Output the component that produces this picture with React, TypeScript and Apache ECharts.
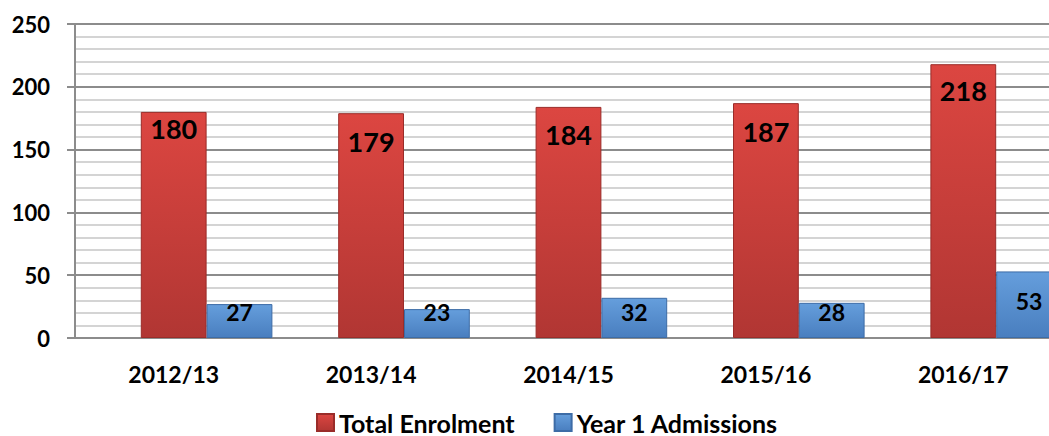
import React, { useEffect, useRef } from "react";
import * as echarts from "echarts";

const categories = ["2012/13", "2013/14", "2014/15", "2015/16", "2016/17"];
const totalEnrolment = [180, 179, 184, 187, 218];
const year1Admissions = [27, 23, 32, 28, 53];
const seriesNames = ["Total Enrolment", "Year 1 Admissions"];

// label placement styling (distances in px)
const redLabelDistance = [3, 15, 14, 15, 13];
const blueLabelDistance = [15, 15, 15, 15, 26];

const FONT = "Lato, 'Open Sans', sans-serif";

const redFill = new echarts.graphic.LinearGradient(0, 0, 0, 1, [
  { offset: 0, color: "#DC4641" },
  { offset: 1, color: "#B13633" },
]);
const blueFill = new echarts.graphic.LinearGradient(0, 0, 0, 1, [
  { offset: 0, color: "#659EDC" },
  { offset: 1, color: "#497EBF" },
]);

export default function App() {
  const ref = useRef<HTMLDivElement>(null);

  useEffect(() => {
    if (!ref.current) return;
    const chart = echarts.init(ref.current, null, { renderer: "svg" });
    chart.setOption({
      animation: false,
      backgroundColor: "#ffffff",
      textStyle: { fontFamily: FONT },
      grid: { left: 75, right: 0, top: 24, bottom: 98, containLabel: false },
      legend: {
        data: seriesNames,
        left: 316,
        top: 410,
        padding: 0,
        itemWidth: 17,
        itemHeight: 17,
        itemGap: 39,
        icon: "rect",
        textStyle: { fontFamily: FONT, fontWeight: "bold", fontSize: 25, color: "#000" },
      },
      xAxis: {
        type: "category",
        data: categories,
        axisLine: { show: true, lineStyle: { color: "#8c8c8c", width: 2 } },
        axisTick: { show: false },
        axisLabel: {
          margin: 24,
          fontFamily: FONT,
          fontWeight: "bold",
          fontSize: 23,
          color: "#000",
        },
      },
      yAxis: {
        type: "value",
        min: 0,
        max: 250,
        interval: 50,
        axisLine: { show: true, lineStyle: { color: "#8c8c8c", width: 2 } },
        axisTick: { show: true, length: 8, lineStyle: { color: "#8c8c8c", width: 2 } },
        axisLabel: {
          margin: 25,
          fontFamily: FONT,
          fontWeight: "bold",
          fontSize: 22,
          color: "#000",
        },
        splitLine: { show: true, lineStyle: { color: "#8c8c8c", width: 2 } },
        minorTick: { show: false, splitNumber: 5 },
        minorSplitLine: { show: true, lineStyle: { color: "#c6c6c6", width: 1.5 } },
      },
      series: [
        {
          name: "_spacer",
          type: "bar",
          data: categories.map(() => null),
          barGap: "0%",
          barCategoryGap: "0%",
          silent: true,
        },
        {
          name: seriesNames[0],
          type: "bar",
          barGap: "0%",
          barCategoryGap: "0%",
          itemStyle: { color: redFill, borderColor: "#9A2C29", borderWidth: 1 },
          data: totalEnrolment.map((v, i) => ({
            value: v,
            label: { distance: redLabelDistance[i] },
          })),
          label: {
            show: true,
            position: "insideTop",
            fontFamily: FONT,
            fontWeight: "bold",
            fontSize: 27,
            color: "#000",
          },
        },
        {
          name: seriesNames[1],
          type: "bar",
          barGap: "0%",
          barCategoryGap: "0%",
          itemStyle: { color: blueFill, borderColor: "#3D6CA6", borderWidth: 1 },
          data: year1Admissions.map((v, i) => ({
            value: v,
            label: { distance: blueLabelDistance[i] },
          })),
          label: {
            show: true,
            position: "insideBottom",
            fontFamily: FONT,
            fontWeight: "bold",
            fontSize: 23,
            color: "#000",
          },
        },
      ],
    });
    return () => chart.dispose();
  }, []);

  return (
    <div
      ref={ref}
      style={{ position: "fixed", left: 0, top: 0, width: 1062, height: 436 }}
    />
  );
}
